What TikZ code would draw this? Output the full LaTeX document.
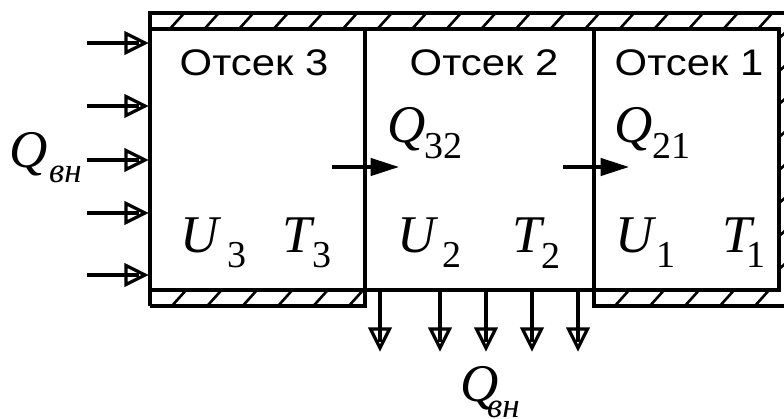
\documentclass[tikz,border=0pt]{standalone}
\usepackage{fontspec}
\setmainfont{Liberation Serif}
\newfontfamily\arialf[FakeStretch=1.13]{Liberation Sans}
\usetikzlibrary{arrows.meta}
\newcommand\bigit{\fontsize{53}{53}\selectfont\itshape}
\newcommand\subup{\fontsize{38}{38}\selectfont\upshape}
\newcommand\subit{\fontsize{35}{35}\selectfont\itshape}
\newcommand\headf{\arialf\fontsize{37}{37}\selectfont}
\begin{document}
\begin{tikzpicture}[x=1pt,y=-1pt,
  wall/.style={line width=3.4pt,line join=miter},
  hatchline/.style={line width=2.6pt},
  shaft/.style={line width=3.4pt},
  openhd/.style={line width=3.2pt,line join=miter,fill=white},
  fillhd/.style={line width=1pt,line join=miter,fill=black},
  txt/.style={inner sep=0pt,anchor=base west},
  head/.style={inner sep=0pt,anchor=base,font=\headf}]
\useasboundingbox (0,0) rectangle (784,418);
\clip (0,0) rectangle (784,418);
% compartments (named areas)
\node[inner sep=0pt,minimum width=215pt,minimum height=261pt,anchor=north west] (c3) at (150,29) {};
\node[inner sep=0pt,minimum width=229pt,minimum height=261pt,anchor=north west] (c2) at (365,29) {};
\node[inner sep=0pt,minimum width=185pt,minimum height=261pt,anchor=north west] (c1) at (594,29) {};
% hatching
\begin{scope}
  \clip (150,13) rectangle (800,29);
  \foreach \x in {168,202.6,...,800} \draw[hatchline] (\x,31) -- (\x+18,11);
\end{scope}
\begin{scope}
  \clip (150,290) rectangle (365,306);
  \foreach \x in {170,205.4,...,365} \draw[hatchline] (\x,308) -- (\x+18,288);
\end{scope}
\begin{scope}
  \clip (594,290) rectangle (800,306);
  \foreach \x in {613,648,...,800} \draw[hatchline] (\x,308) -- (\x+18,288);
\end{scope}
\begin{scope}
  \clip (779,29) rectangle (800,290);
  \foreach \y in {40,73,...,320} \draw[hatchline] (777,\y) -- (797,\y-18);
\end{scope}
% walls and partitions
\draw[wall] (150,306) -- (150,13) -- (800,13);
\draw[wall] (150,29) -- (779,29) -- (779,290) -- (150,290);
\draw[wall] (150,306) -- (365,306) -- (365,29);
\draw[wall] (800,306) -- (594,306) -- (594,29);
% headings
\node[head] (h3) at (254,75) {Отсек 3};
\node[head] (h2) at (484,75) {Отсек 2};
\node[head] (h1) at (689,75) {Отсек 1};
% inflow arrows (open heads, shaft visible inside)
\foreach \y [count=\i] in {43,106,160,213,275}{
  \coordinate (ia\i) at (87,\y);
  \coordinate (ib\i) at (145,\y);
  \draw[openhd] (ib\i) ++(-19,-9.5) -- (ib\i) -- ++(-19,9.5) -- cycle;
  \draw[shaft,shorten >=6pt] (ia\i) -- (ib\i);
}
% outflow arrows
\foreach \x [count=\i] in {380,440,486,532,578}{
  \coordinate (oa\i) at (\x,290);
  \coordinate (ob\i) at (\x,348);
  \draw[openhd] (ob\i) ++(-9.5,-19) -- (ob\i) -- ++(9.5,-19) -- cycle;
  \draw[shaft,shorten >=6pt] (oa\i) -- (ob\i);
}
% internal transfer arrows (filled heads)
\coordinate (q32a) at (332,167);
\coordinate (q32b) at (397,167);
\draw[shaft,shorten >=10pt] (q32a) -- (q32b);
\draw[fillhd] (q32b) -- ++(-26,-8.5) -- ++(0,17) -- cycle;
\coordinate (q21a) at (563,167);
\coordinate (q21b) at (627,167);
\draw[shaft,shorten >=10pt] (q21a) -- (q21b);
\draw[fillhd] (q21b) -- ++(-26,-8.5) -- ++(0,17) -- cycle;
% labels
\node[txt] (Qin) at (9,167) {\bigit Q};
\node[txt] (Qins) at (49,182) {\subit вн};
\node[txt] (Qout) at (460,401) {\bigit Q};
\node[txt] (Qouts) at (487,417) {\subit вн};
\node[txt] (Q32) at (387,142) {\bigit Q};
\node[txt] (Q32s) at (424,158) {\subup 32};
\node[txt] (Q21) at (614,142) {\bigit Q};
\node[txt] (Q21s) at (652,158) {\subup 21};
\node[txt] (U3) at (180,252) {\bigit U};
\node[txt] (U3s) at (227,267) {\subup 3};
\node[txt] (T3) at (282,252) {\bigit T};
\node[txt] (T3s) at (312,267) {\subup 3};
\node[txt] (U2) at (397,252) {\bigit U};
\node[txt] (U2s) at (442,267) {\subup 2};
\node[txt] (T2) at (512,252) {\bigit T};
\node[txt] (T2s) at (541,268) {\subup 2};
\node[txt] (U1) at (615,252) {\bigit U};
\node[txt] (U1s) at (656,267) {\subup 1};
\node[txt] (T1) at (722,252) {\bigit T};
\node[txt] (T1s) at (746,267) {\subup 1};
\end{tikzpicture}
\end{document}
